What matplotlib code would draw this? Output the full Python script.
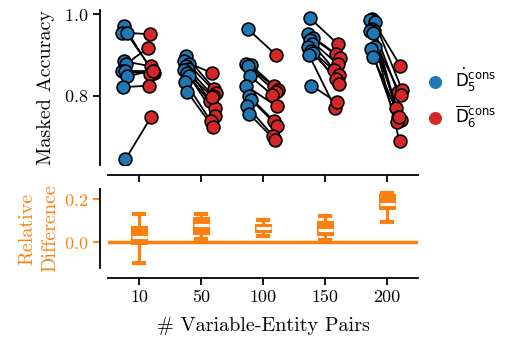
import numpy as np
import matplotlib
matplotlib.use("Agg")
import matplotlib.pyplot as plt
from matplotlib.font_manager import FontProperties

# ---------------------------------------------------------------
# data
# ---------------------------------------------------------------
groups = ["10", "50", "100", "150", "200"]

blue_acc = [
    [0.970, 0.955, 0.953, 0.885, 0.878, 0.862, 0.860, 0.848, 0.821, 0.644],
    [0.897, 0.885, 0.877, 0.873, 0.866, 0.864, 0.856, 0.848, 0.835, 0.809],
    [0.963, 0.878, 0.876, 0.872, 0.848, 0.825, 0.800, 0.790, 0.774, 0.755],
    [0.990, 0.952, 0.942, 0.938, 0.928, 0.919, 0.911, 0.905, 0.900, 0.825],
    [0.988, 0.985, 0.980, 0.963, 0.960, 0.958, 0.955, 0.919, 0.914, 0.895],
]
red_acc = [
    [0.860, 0.951, 0.857, 0.872, 0.918, 0.862, 0.854, 0.862, 0.825, 0.747],
    [0.817, 0.856, 0.807, 0.799, 0.786, 0.770, 0.798, 0.751, 0.737, 0.723],
    [0.900, 0.823, 0.815, 0.810, 0.802, 0.774, 0.737, 0.726, 0.702, 0.691],
    [0.926, 0.903, 0.893, 0.878, 0.864, 0.852, 0.842, 0.830, 0.770, 0.784],
    [0.874, 0.810, 0.815, 0.689, 0.770, 0.802, 0.749, 0.741, 0.735, 0.749],
]

# relative difference box stats (whislo, q1, med, q3, whishi)
rel_whislo = [-0.099, 0.014, 0.029, 0.009, 0.092]
rel_q1 = [-0.009, 0.036, 0.048, 0.033, 0.152]
rel_med = [0.025, 0.079, 0.064, 0.056, 0.177]
rel_q3 = [0.071, 0.113, 0.082, 0.092, 0.219]
rel_whishi = [0.129, 0.129, 0.102, 0.122, 0.229]

BLUE = "#1f77b4"
RED = "#d62728"
ORANGE = "#ff7f0e"

plt.rcParams["font.family"] = "serif"
plt.rcParams["font.serif"] = ["cmr10"]
plt.rcParams["mathtext.fontset"] = "cm"
plt.rcParams["axes.formatter.use_mathtext"] = True
plt.rcParams["axes.linewidth"] = 1.3
plt.rcParams["xtick.major.width"] = 1.3
plt.rcParams["ytick.major.width"] = 1.3
plt.rcParams["xtick.major.size"] = 5
plt.rcParams["ytick.major.size"] = 5

fig = plt.figure(figsize=(5.05, 3.39), dpi=100)
ax1 = fig.add_axes([0.214, 0.513, 0.614, 0.457])
ax2 = fig.add_axes([0.214, 0.2094, 0.614, 0.233])

# small fixed jitter so the dots don't sit on one vertical line
jit = np.array([0.0, -0.03, 0.04, -0.01, 0.03, -0.04, 0.01, 0.05, -0.02, 0.02])

for i in range(len(groups)):
    b = np.array(blue_acc[i])
    r = np.array(red_acc[i])
    xb = i - 0.24 + jit
    xr = i + 0.19 + jit[::-1]
    for k in range(len(b)):
        ax1.plot([xb[k], xr[k]], [b[k], r[k]], color="black", lw=1.3, zorder=1)
    ax1.scatter(xb, b, s=85, color=BLUE, edgecolor="black", linewidth=1.2, zorder=3)
    ax1.scatter(xr, r, s=85, color=RED, edgecolor="black", linewidth=1.2, zorder=3)

ax1.set_xlim(-0.5, 4.5)
ax1.set_ylim(0.63, 1.01)
ax1.set_yticks([0.8, 1.0])
ax1.set_xticks(range(len(groups)))
ax1.set_xticklabels([])
ax1.set_ylabel("Masked Accuracy", fontsize=14.5, labelpad=6)

# legend
lab_font = FontProperties(family="DejaVu Sans", size=12, math_fontfamily="dejavusans")
h1 = ax1.scatter([], [], s=70, color=BLUE)
h2 = ax1.scatter([], [], s=70, color=RED)
ax1.legend([h1, h2],
           [r"$\dot{\mathrm{D}}_5^{\mathrm{cons}}$", r"$\overline{\mathrm{D}}_6^{\mathrm{cons}}$"],
           prop=lab_font, frameon=False, loc="center left",
           bbox_to_anchor=(0.98, 0.435), labelspacing=0.6, handlelength=1.0,
           handletextpad=0.7)

# relative difference panel
stats = []
for i in range(len(groups)):
    stats.append(dict(med=rel_med[i], q1=rel_q1[i], q3=rel_q3[i],
                      whislo=rel_whislo[i], whishi=rel_whishi[i], fliers=[]))
ax2.axhline(0, color=ORANGE, lw=2.5, zorder=1)
ax2.bxp(stats, positions=range(len(groups)), widths=0.24, capwidths=0.17,
        showfliers=False, patch_artist=True,
        boxprops=dict(facecolor=ORANGE, edgecolor=ORANGE, linewidth=1.5),
        whiskerprops=dict(color=ORANGE, linewidth=2.2),
        capprops=dict(color=ORANGE, linewidth=3),
        medianprops=dict(color="white", linewidth=2.2))
ax2.set_xlim(-0.5, 4.5)
ax2.set_ylim(-0.12, 0.247)
ax2.set_yticks([0.0, 0.2])
ax2.set_xticks(range(len(groups)))
ax2.set_xticklabels(groups)
ax2.set_xlabel("# Variable-Entity Pairs", fontsize=14.5, labelpad=9)
ax2.set_ylabel("Relative\nDifference", color=ORANGE, fontsize=14.5, labelpad=3,
               linespacing=1.35)

for ax in (ax1, ax2):
    ax.spines["top"].set_visible(False)
    ax.spines["right"].set_visible(False)
    ax.spines["left"].set_position(("outward", 6))
    ax.spines["bottom"].set_position(("outward", 7))
    ax.tick_params(labelsize=13)
ax2.tick_params(axis="y", colors=ORANGE, labelcolor=ORANGE)

fig.savefig("out.png", dpi=100)
